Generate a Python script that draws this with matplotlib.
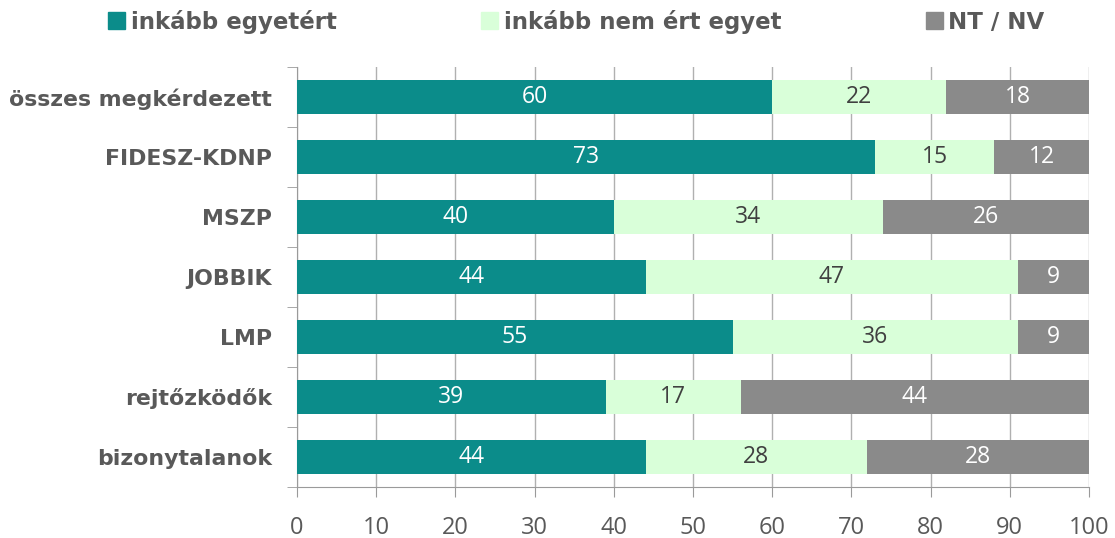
import matplotlib.pyplot as plt
from matplotlib.patches import Patch
import numpy as np

# Adatok
groups = ["összes megkérdezett", "FIDESZ-KDNP", "MSZP", "JOBBIK", "LMP",
          "rejtőzködők", "bizonytalanok"]
agree = [60, 73, 40, 44, 55, 39, 44]
disagree = [22, 15, 34, 47, 36, 17, 28]
dk = [18, 12, 26, 9, 9, 44, 28]
series_names = ["inkább egyetért", "inkább nem ért egyet", "NT / NV"]

colors = ["#0B8C8A", "#D9FFD9", "#8A8A8A"]
text_colors = ["white", "#404040", "white"]
label_grey = "#595959"

fig = plt.figure(figsize=(11.15, 5.38), dpi=100)
ax = fig.add_axes([0.2664, 0.0948, 0.9767 - 0.2664, 0.8755 - 0.0948])

y = np.arange(len(groups))
left = np.zeros(len(groups))
for vals, col, tcol in zip([agree, disagree, dk], colors, text_colors):
    bars = ax.barh(y, vals, left=left, height=0.57, color=col, zorder=3)
    ax.bar_label(bars, labels=[str(v) for v in vals], label_type="center",
                 color=tcol, fontsize=16.5, family="Open Sans")
    left += np.array(vals)

ax.set_xlim(0, 100)
ax.set_ylim(len(groups) - 0.5, -0.5)
ax.set_xticks(range(0, 101, 10))
ax.tick_params(axis="x", labelsize=17, colors="#9a9a9a", labelcolor=label_grey,
               length=7, pad=14)
for t in ax.get_xticklabels():
    t.set_family("Open Sans")

ax.set_yticks(y)
ax.set_yticklabels(groups, fontsize=15.8, fontweight="bold", color=label_grey)
ax.tick_params(axis="y", length=0, pad=18)
ax.set_yticks(np.arange(-0.5, len(groups), 1), minor=True)
ax.tick_params(axis="y", which="minor", length=7, colors="#9a9a9a")

ax.grid(axis="x", color="#b0b0b0", linewidth=1, zorder=0)
for s in ["top", "right"]:
    ax.spines[s].set_visible(False)
for s in ["left", "bottom"]:
    ax.spines[s].set_color("#9a9a9a")

handles = [Patch(color=c, label=n) for c, n in zip(colors, series_names)]
fig.legend(handles=handles, loc="upper left", bbox_to_anchor=(0.078, 1.02),
           ncol=3, frameon=False, handlelength=0.75, handleheight=0.75,
           handletextpad=0.25, columnspacing=6.3,
           prop={"size": 16.5, "weight": "bold"}, labelcolor=label_grey)

fig.savefig("out.png", dpi=100)
